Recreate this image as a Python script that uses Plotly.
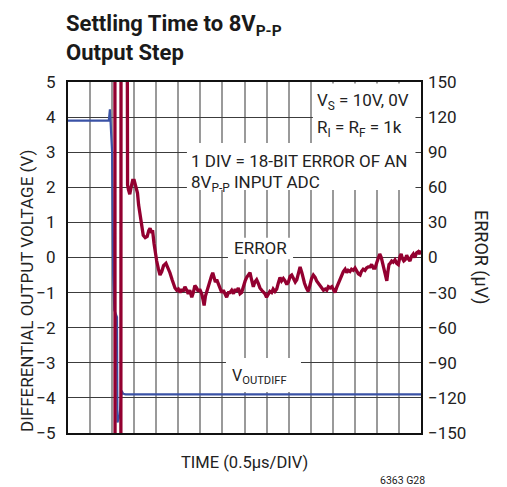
import plotly.graph_objects as go

# ---- data (x in divisions of 0.5 µs) ----
vout_t = [0, 1.85, 1.9, 2.0, 2.05, 2.1, 2.22, 2.24, 2.34, 2.43, 2.5, 2.6, 16]
vout_v = [3.9, 3.9, 4.22, 3.0, -0.5, -1.5, -1.7, -4.7, -4.5, -3.8, -3.88, -3.9, -3.9]

err_t = [2.12, 2.14, 2.39, 2.41, 2.65, 2.70, 2.74, 2.80, 2.86, 2.93, 3.00, 3.05, 3.10, 3.15, 3.20,
         3.26, 3.33, 3.41, 3.50, 3.59, 3.66, 3.72, 3.78, 3.84, 3.90, 3.96, 4.02, 4.10, 4.17, 4.25,
         4.33, 4.44, 4.52, 4.62, 4.72, 4.80, 4.85, 4.93, 5.00, 5.08, 5.15, 5.22, 5.30, 5.38, 5.45,
         5.52, 5.61, 5.68, 5.75, 5.83, 5.90, 5.97, 6.06, 6.12, 6.17, 6.23, 6.30, 6.36, 6.42, 6.50,
         6.56, 6.62, 6.68, 6.74, 6.80, 6.88, 6.97, 7.04, 7.12, 7.19, 7.27, 7.34, 7.42, 7.50, 7.58,
         7.65, 7.72, 7.80, 7.87, 7.95, 8.03, 8.10, 8.18, 8.25, 8.32, 8.40, 8.47, 8.55, 8.62, 8.70,
         8.78, 8.86, 8.93, 9.00, 9.08, 9.15, 9.23, 9.30, 9.38, 9.46, 9.53, 9.61, 9.68, 9.76, 9.84,
         9.92, 9.99, 10.07, 10.14, 10.22, 10.30, 10.37, 10.45, 10.52, 10.60, 10.66, 10.72, 10.80, 10.89, 10.96,
         11.04, 11.12, 11.20, 11.27, 11.35, 11.43, 11.50, 11.58, 11.66, 11.73, 11.80, 11.88, 11.96, 12.03, 12.10,
         12.17, 12.25, 12.33, 12.40, 12.48, 12.56, 12.63, 12.70, 12.78, 12.85, 12.93, 13.01, 13.08, 13.16, 13.24,
         13.30, 13.38, 13.46, 13.53, 13.61, 13.69, 13.76, 13.84, 13.92, 14.00, 14.07, 14.13, 14.20, 14.26, 14.30,
         14.36, 14.41, 14.45, 14.50, 14.55, 14.60, 14.67, 14.74, 14.82, 14.90, 14.97, 15.05, 15.10, 15.16, 15.22,
         15.28, 15.35, 15.42, 15.50, 15.57, 15.65, 15.72, 15.80, 15.88, 15.95, 16.00]
err_uv = [500, -500, -500, 500, 500, 62, 58, 54, 60, 66, 66, 63, 60, 55, 45,
          36, 27, 19, 17, 18, 23, 25, 22, 22, 12, 3, -3, -10, -15, -12,
          -7, -5, -8, -13, -19, -24, -26, -28, -27, -30, -27, -29, -25, -28, -31,
          -28, -34, -30, -24, -26, -29, -27, -31, -36, -41, -33, -28, -25, -22, -16,
          -13, -16, -21, -19, -22, -27, -30, -28, -32, -34, -30, -30, -28, -31, -27,
          -29, -26, -31, -30, -24, -20, -17, -15, -13, -19, -25, -21, -19, -22, -26,
          -28, -30, -31, -34, -31, -29, -30, -27, -29, -27, -22, -17, -20, -18, -20,
          -23, -21, -16, -15, -18, -21, -19, -13, -8, -13, -19, -22, -26, -29, -24,
          -18, -15, -17, -20, -22, -25, -26, -28, -27, -28, -25, -26, -25, -28, -30,
          -26, -22, -19, -15, -12, -10, -13, -11, -12, -10, -11, -9, -12, -14, -15,
          -12, -10, -11, -9, -8, -8, -6, -9, -9, -4, -1, 3, 0, -5, -8,
          -14, -19, -20, -12, -6, -5, -3, -4, -2, -5, -6, 1, 3, -1, -3,
          -2, 2, -1, -3, 1, 3, 0, 4, 5, 3, 6]

left_ticks = [5, 4, 3, 2, 1, 0, -1, -2, -3, -4, -5]
right_ticks = [150, 120, 90, 60, 30, 0, -30, -60, -90, -120, -150]

FONT = "Roboto, Liberation Sans, sans-serif"
RED = "#930030"
BLUE = "#3a52a6"

fig = go.Figure()
fig.add_trace(go.Scatter(x=vout_t, y=vout_v, mode="lines", line=dict(color=BLUE, width=2.2),
                         yaxis="y", showlegend=False, hoverinfo="skip"))
fig.add_trace(go.Scatter(x=err_t, y=err_uv, mode="lines", line=dict(color=RED, width=3.3),
                         yaxis="y2", showlegend=False, hoverinfo="skip"))

# white boxes behind labels (cover grid, below traces)
boxes = [(11.1, 15.75, 3.26, 4.96), (5.39, 15.75, 1.92, 3.26),
         (7.25, 10.2, -0.05, 0.56), (7.16, 10.56, -3.83, -2.86)]
for x0, x1, y0, y1 in boxes:
    fig.add_shape(type="rect", xref="x", yref="y", x0=x0, x1=x1, y0=y0, y1=y1,
                  fillcolor="white", line=dict(width=0), layer="between")

fs = 17
def ann(x, y, text, size=fs, xanchor="left", yanchor="middle", xref="x", yref="y", bold=False, angle=0, color="#222"):
    fig.add_annotation(x=x, y=y, xref=xref, yref=yref, text=text, showarrow=False,
                       xanchor=xanchor, yanchor=yanchor, textangle=angle,
                       font=dict(family=FONT, size=size, color=color,
                                 weight="bold" if bold else "normal"))

ann(11.2, 4.44, "V<sub>S</sub> = 10V, 0V")
ann(11.2, 3.68, "R<sub>I</sub> = R<sub>F</sub> = 1k")
ann(5.5, 2.75, "1 DIV = 18-BIT ERROR OF AN")
ann(5.5, 2.12, "8V<sub>P-P</sub> INPUT ADC")
ann(7.45, 0.28, "ERROR")
ann(7.35, -3.38, "V<sub>OUTDIFF</sub>", size=16)

# title
def px(xp):
    return (xp - 68) / 353.0
def py(yp):
    return (433 - yp) / 351.0
ann(px(64), py(26), "Settling Time to 8V<sub>P-P</sub>", size=22, xref="paper", yref="paper", bold=True, color="#1a1a1a")
ann(px(64), py(52), "Output Step", size=22, xref="paper", yref="paper", bold=True, color="#1a1a1a")

# axis titles
ann(px(27), py(291), "DIFFERENTIAL OUTPUT VOLTAGE (V)", size=17, xanchor="center", xref="paper", yref="paper", angle=-90)
ann(px(481), py(258), "ERROR (µV)", size=18, xanchor="center", xref="paper", yref="paper", angle=90)
ann(px(244), py(463), "TIME (0.5µs/DIV)", size=16.5, xanchor="center", xref="paper", yref="paper")
ann(px(402), py(480), "6363 G28", size=10.5, xanchor="center", xref="paper", yref="paper")

fig.update_layout(
    width=507, height=487,
    margin=dict(l=68, r=86, t=82, b=54),
    paper_bgcolor="white", plot_bgcolor="white",
    font=dict(family=FONT),
    xaxis=dict(range=[0, 16], dtick=1, tick0=0, showticklabels=False, ticks="",
               showgrid=True, gridcolor="#9a9a9a", gridwidth=1.5, zeroline=False,
               showline=True, linecolor="#111", linewidth=2, mirror=True),
    yaxis=dict(range=[-5, 5], tickvals=left_ticks, ticks="", ticklabelstandoff=7,
               showgrid=True, gridcolor="#3c3c3c", gridwidth=1.3, zeroline=False,
               showline=True, linecolor="#111", linewidth=2, mirror=True,
               tickfont=dict(family=FONT, size=17, color="#222")),
    yaxis2=dict(range=[-150, 150], tickvals=right_ticks, overlaying="y", side="right",
                ticks="", ticklabelstandoff=6, showgrid=False, zeroline=False, showline=False,
                tickfont=dict(family=FONT, size=17, color="#222")),
)

fig.write_html("out.html", config={"displayModeBar": False},
               post_script="document.body.style.margin='0';document.body.style.overflow='hidden';")
